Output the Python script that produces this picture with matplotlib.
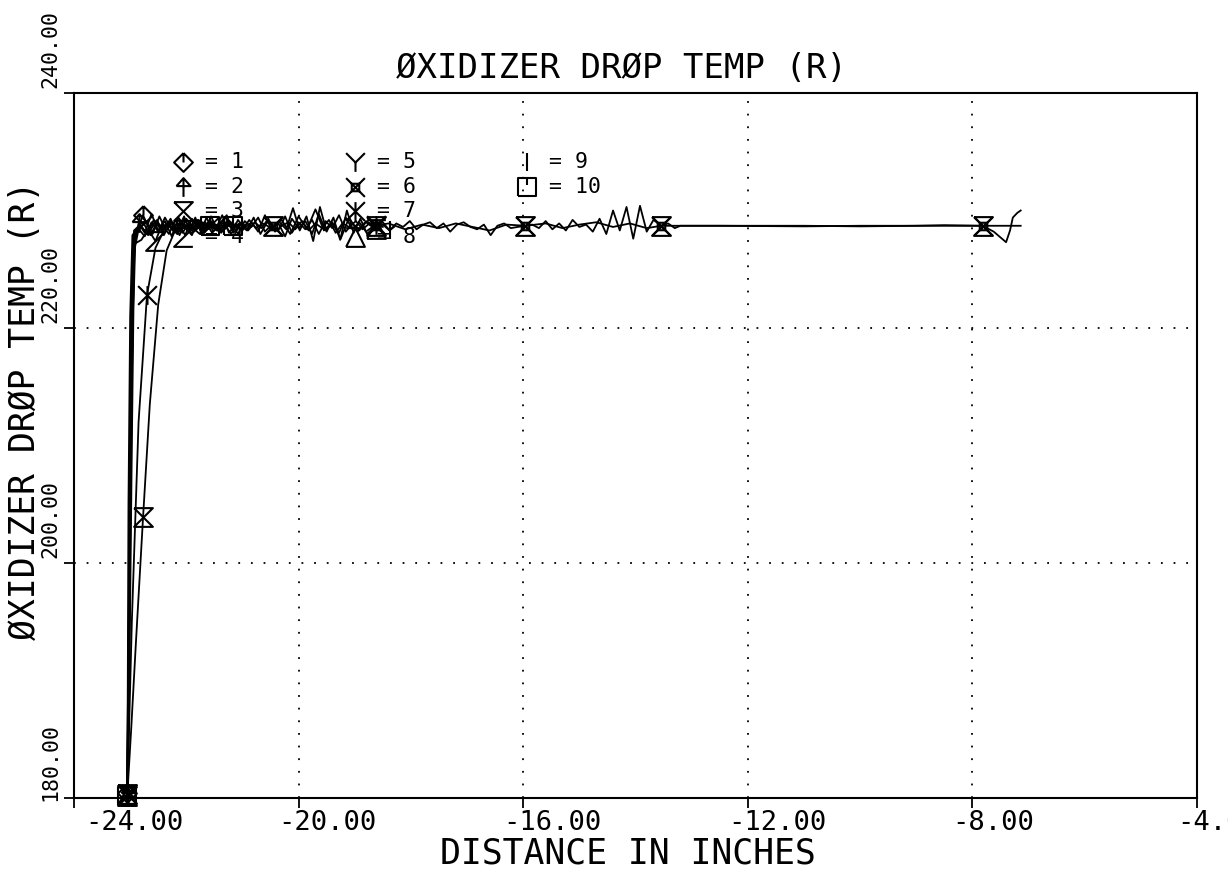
import matplotlib
matplotlib.use("Agg")
import matplotlib.pyplot as plt
from matplotlib.path import Path

# ---------------- data ----------------
x_ticks = [-24, -20, -16, -12, -8, -4]
x_tick_labels = ["-24.00", "-20.00", "-16.00", "-12.00", "-8.00", "-4.00"]
y_ticks = [180, 200, 220, 240]
y_tick_labels = ["180.00", "200.00", "220.00", "240.00"]

title_text = "ØXIDIZER DRØP TEMP (R)"
xlabel_text = "DISTANCE IN INCHES"
ylabel_text = "ØXIDIZER DRØP TEMP (R)"

series_names = ["1", "2", "3", "4", "5", "6", "7", "8", "9", "10"]

s1 = [(-23.06, 180.4), (-23.02, 196), (-22.98, 214), (-22.95, 224.5), (-22.9, 228.0),
      (-22.77, 229.6), (-22.65, 228.3), (-22.52, 229.2), (-22.4, 227.9), (-22.28, 229.0),
      (-22.16, 228.2), (-22.04, 229.5), (-21.92, 228.0), (-21.8, 228.9), (-21.68, 228.4),
      (-21.56, 229.1), (-21.44, 228.6)]
s2 = [(-23.04, 180.3), (-23.0, 201), (-22.96, 219), (-22.92, 227.4), (-22.85, 228.9),
      (-22.74, 228.1), (-22.62, 229.7), (-22.5, 228.3), (-22.38, 229.1), (-22.26, 227.8),
      (-22.14, 229.4), (-22.02, 228.6), (-21.9, 227.9), (-21.78, 229.2), (-21.66, 228.4),
      (-21.54, 229.0), (-21.42, 228.2), (-21.3, 228.9), (-21.18, 228.5), (-21.06, 228.7)]
s3 = [(-23.05, 180.3), (-22.98, 186), (-22.9, 193), (-22.77, 203.9), (-22.65, 213.5),
      (-22.5, 222), (-22.35, 226.6), (-22.2, 228.3),
      (-22.08, 228.9), (-21.96, 228.2), (-21.84, 229.4), (-21.72, 228.0), (-21.60, 229.1),
      (-21.48, 228.4), (-21.36, 229.6), (-21.24, 228.1), (-21.12, 228.9), (-21.00, 228.3),
      (-20.88, 229.2), (-20.76, 228.5), (-20.64, 228.9), (-20.52, 228.6), (-20.45, 228.7),
      (-20.34, 229.0), (-20.22, 228.4), (-20.10, 230.2), (-19.98, 228.3), (-19.86, 229.5),
      (-19.74, 227.4), (-19.62, 230.3), (-19.50, 228.2), (-19.38, 229.4), (-19.26, 227.5),
      (-19.14, 230.0), (-19.02, 228.1), (-18.90, 229.3), (-18.78, 228.0), (-18.63, 228.7),
      (-18.50, 229.0), (-18.38, 228.3), (-18.26, 228.9), (-18.14, 228.6), (-18.02, 229.1),
      (-17.90, 228.4), (-17.78, 228.8), (-17.66, 229.0), (-17.54, 228.5), (-17.42, 228.9),
      (-17.30, 228.2), (-17.18, 228.8), (-17.06, 229.0), (-16.94, 228.6), (-16.82, 228.4),
      (-16.70, 228.8), (-16.58, 227.9), (-16.46, 228.7), (-16.34, 228.9), (-16.22, 228.5),
      (-16.10, 228.6), (-15.96, 228.7), (-15.84, 228.8), (-15.72, 228.5), (-15.60, 229.1),
      (-15.48, 228.4), (-15.36, 228.9), (-15.24, 228.3), (-15.12, 229.2), (-15.00, 228.6),
      (-14.88, 228.8), (-14.76, 228.2), (-14.64, 229.3), (-14.52, 228.0), (-14.40, 230.0),
      (-14.28, 228.3), (-14.16, 230.3), (-14.04, 227.6), (-13.92, 230.4), (-13.80, 228.2),
      (-13.68, 229.2), (-13.54, 228.7), (-13.42, 228.9), (-13.30, 228.5), (-13.20, 228.7),
      (-12.5, 228.7), (-11.0, 228.65), (-10.0, 228.7), (-9.0, 228.7), (-8.5, 228.75),
      (-7.82, 228.7), (-7.5, 228.7), (-7.14, 228.7)]
s4 = [(-23.05, 180.2), (-23.01, 192), (-22.97, 210), (-22.94, 222), (-22.91, 227.2),
      (-22.8, 227.5), (-22.68, 228.4), (-22.55, 227.4), (-22.43, 228.8), (-22.31, 228.0),
      (-22.19, 229.2), (-22.07, 228.1), (-21.95, 228.9), (-21.83, 228.3), (-21.71, 229.0),
      (-21.59, 228.5), (-21.47, 228.8), (-21.35, 228.2), (-21.23, 229.1), (-21.11, 228.6)]
s5 = [(-23.05, 180.3), (-23.03, 205), (-23.0, 221), (-22.96, 227.9), (-22.86, 228.5),
      (-22.74, 227.8), (-22.62, 229.0), (-22.5, 228.2), (-22.38, 229.4), (-22.26, 228.4),
      (-22.14, 228.9), (-22.02, 227.9), (-21.9, 229.3), (-21.78, 228.5), (-21.66, 229.0),
      (-21.54, 228.1), (-21.42, 228.8), (-21.3, 229.4), (-21.18, 228.3), (-21.06, 228.9),
      (-20.94, 228.4), (-20.82, 228.8)]
s6 = [(-23.05, 180.3), (-23.01, 199), (-22.97, 216), (-22.93, 226.5), (-22.85, 228.4),
      (-22.72, 229.1), (-22.6, 228.0), (-22.48, 229.5), (-22.36, 228.3), (-22.24, 229.0),
      (-22.12, 227.9), (-22.0, 229.3), (-21.88, 228.5), (-21.76, 228.0), (-21.64, 229.4),
      (-21.52, 228.2), (-21.40, 228.9), (-21.28, 229.6), (-21.16, 228.1), (-21.04, 228.8),
      (-20.92, 228.3), (-20.80, 229.4), (-20.68, 228.0), (-20.56, 229.0), (-20.45, 228.7),
      (-20.3, 229.2), (-20.15, 228.0), (-20.0, 229.5), (-19.85, 228.4), (-19.7, 230.1),
      (-19.55, 228.3), (-19.4, 229.0), (-19.25, 227.6), (-19.1, 229.4), (-18.95, 228.2),
      (-18.8, 229.1), (-18.63, 228.7), (-18.4, 228.9), (-18.1, 228.4), (-17.8, 228.8),
      (-17.5, 228.5), (-17.2, 228.9), (-16.9, 228.6), (-16.6, 228.3), (-16.3, 228.8),
      (-15.96, 228.7), (-15.6, 228.9), (-15.3, 228.5), (-15.0, 228.8), (-14.7, 229.0),
      (-14.4, 228.6), (-14.1, 228.9), (-13.8, 228.5), (-13.54, 228.7), (-13.0, 228.7),
      (-12.0, 228.7), (-11.0, 228.7), (-10.0, 228.65), (-9.0, 228.7), (-8.3, 228.7),
      (-7.82, 228.7), (-7.62, 228.2), (-7.40, 227.3), (-7.33, 228.3), (-7.28, 229.4),
      (-7.20, 229.8), (-7.14, 230.0)]
s7 = [(-23.05, 180.3), (-22.97, 195), (-22.85, 212), (-22.70, 222.8), (-22.55, 226.8),
      (-22.4, 228.3), (-22.28, 229.1), (-22.16, 228.0), (-22.04, 229.3), (-21.92, 228.4),
      (-21.8, 228.9), (-21.68, 228.1), (-21.56, 229.5), (-21.44, 228.3), (-21.32, 228.8),
      (-21.2, 228.0), (-21.08, 229.2), (-20.96, 228.5), (-20.84, 229.0), (-20.72, 228.2),
      (-20.6, 229.6), (-20.48, 228.4), (-20.36, 228.9), (-20.24, 227.8), (-20.12, 229.3),
      (-20.0, 228.5), (-19.88, 229.1), (-19.76, 228.0), (-19.64, 229.7), (-19.52, 228.3),
      (-19.4, 228.9), (-19.28, 228.1), (-19.16, 229.4), (-19.04, 228.4), (-18.92, 229.0),
      (-18.8, 228.2), (-18.63, 228.8), (-18.5, 228.6)]
s8 = [(-23.05, 180.2), (-23.02, 198), (-22.99, 217), (-22.95, 226.8), (-22.88, 228.1),
      (-22.76, 228.9), (-22.64, 227.9), (-22.52, 229.0), (-22.4, 228.4), (-22.28, 229.3),
      (-22.16, 228.0), (-22.04, 228.8), (-21.92, 228.5), (-21.8, 229.2), (-21.68, 228.1),
      (-21.56, 228.7), (-21.44, 229.3), (-21.32, 228.4), (-21.2, 228.9), (-21.08, 228.0),
      (-20.96, 229.1), (-20.84, 228.6), (-20.72, 229.4), (-20.6, 228.2), (-20.48, 228.8),
      (-20.36, 228.3), (-20.24, 229.5), (-20.12, 228.1), (-20.0, 229.0), (-19.88, 228.4),
      (-19.76, 229.2), (-19.64, 228.0), (-19.52, 229.1), (-19.4, 228.5), (-19.28, 229.6),
      (-19.16, 228.2), (-19.04, 228.9), (-18.92, 228.3), (-18.8, 229.0), (-18.63, 228.4),
      (-18.55, 228.6)]
s9 = [(-23.05, 180.3), (-23.0, 208), (-22.97, 223), (-22.93, 228.3), (-22.82, 228.8),
      (-22.7, 228.0), (-22.58, 229.2), (-22.46, 228.5), (-22.34, 228.9), (-22.22, 228.2),
      (-22.1, 229.1), (-21.98, 228.6), (-21.86, 228.2), (-21.74, 229.0), (-21.62, 228.4),
      (-21.5, 228.8), (-21.38, 228.1), (-21.26, 229.2), (-21.14, 228.6), (-21.02, 228.9),
      (-20.9, 228.3), (-20.78, 229.0), (-20.66, 228.5), (-20.54, 229.3), (-20.42, 228.2),
      (-20.3, 228.7), (-20.18, 229.0), (-20.06, 228.4), (-19.94, 229.1), (-19.82, 228.3),
      (-19.7, 228.9), (-19.58, 228.5), (-19.46, 229.2), (-19.34, 228.1), (-19.22, 228.9),
      (-19.1, 228.6), (-18.98, 229.1), (-18.86, 228.4), (-18.74, 228.9), (-18.62, 228.5),
      (-18.5, 228.8), (-18.38, 228.3), (-18.3, 228.6)]
s10 = [(-23.05, 180.2), (-23.02, 194), (-22.99, 212), (-22.96, 225), (-22.92, 228.3),
       (-22.8, 228.6), (-22.68, 227.9), (-22.56, 229.1), (-22.44, 228.3), (-22.32, 229.0),
       (-22.2, 228.1), (-22.08, 228.8), (-21.96, 228.4), (-21.84, 229.2), (-21.72, 228.0),
       (-21.58, 228.7), (-21.46, 228.3), (-21.34, 229.0), (-21.17, 228.7), (-21.05, 228.5),
       (-20.95, 228.8)]

series_data = [s1, s2, s3, s4, s5, s6, s7, s8, s9, s10]
# indices of points carrying a plot symbol
marker_points = [[0, 5], [0, 4], [0, 3, 22, 37, 59, 79, 88], [0, 7], [0],
                 [0, 24, 36, 45, 53, 60], [0, 3, 36], [0, 39], [0, 41], [0, 15, 18]]


# ---------------- plotter symbols ----------------
def seg_path(*segs):
    verts, codes = [], []
    for s in segs:
        for i, p in enumerate(s):
            verts.append(p)
            codes.append(Path.MOVETO if i == 0 else Path.LINETO)
    return Path(verts, codes)


sq = [(-1, -1), (1, -1), (1, 1), (-1, 1), (-1, -1)]
symbols = [
    seg_path([(0, 1), (1, 0), (0, -1), (-1, 0), (0, 1)], [(0, 1), (0, 0)]),
    seg_path([(0, -1), (0, 1)], [(-0.75, 0.15), (0, 1), (0.75, 0.15), (-0.75, 0.15)]),
    seg_path([(-1, 1), (1, 1), (-1, -1), (1, -1), (-1, 1)]),
    seg_path([(-1, 1), (1, 1), (-1, -1), (1, -1)]),
    seg_path([(-1, 1), (0, 0), (1, 1)], [(0, 0), (0, -1)]),
    seg_path([(-1, -1), (1, 1)], [(-1, 1), (1, -1)],
             [(-0.4, -0.4), (0.4, -0.4), (0.4, 0.4), (-0.4, 0.4), (-0.4, -0.4)]),
    seg_path([(-1, -1), (1, 1)], [(-1, 1), (1, -1)], [(0, -1), (0, 1)]),
    seg_path([(-1, -1), (1, -1), (0, 1), (-1, -1)], [(-1, 1), (1, 1)]),
    seg_path([(0, -1), (0, 1)]),
    seg_path(sq, [(0, 1), (0, 0.2)]),
]

mono = "DejaVu Sans Mono"
fig = plt.figure(figsize=(12.28, 8.75), dpi=100)
W, H = 1228, 875
L, R, T, B = 74, 1197, 93, 798
ax = fig.add_axes([L / W, 1 - B / H, (R - L) / W, (B - T) / H])
ax.set_xlim(-24, -4)
ax.set_ylim(180, 240)

for data, sym, mk in zip(series_data, symbols, marker_points):
    xs = [p[0] for p in data]
    ys = [p[1] for p in data]
    ax.plot(xs, ys, color="black", lw=1.3, marker=sym, markevery=mk,
            markersize=13.5, markerfacecolor="none", markeredgecolor="black",
            markeredgewidth=1.5, zorder=3, clip_on=False)

# grid
for v in x_ticks[1:-1]:
    ax.axvline(v, color="black", lw=1.3, ls=(0, (1, 6)), zorder=1)
for v in y_ticks[1:-1]:
    ax.axhline(v, color="black", lw=1.3, ls=(0, (1, 6)), zorder=1)

ax.set_xticks(x_ticks)
ax.set_yticks(y_ticks)
ax.set_xticklabels([])
ax.set_yticklabels([])
ax.tick_params(direction="out", length=7, width=1.3)
for s in ax.spines.values():
    s.set_linewidth(1.5)

pt = 72 / 100.0
for i, (v, lab) in enumerate(zip(x_ticks, x_tick_labels)):
    dx = 11 if i == 0 else -20
    ax.annotate(lab, xy=(v, 0), xycoords=("data", "axes fraction"),
                xytext=(dx * pt, -25 * pt), textcoords="offset points",
                ha="left", va="center", fontsize=19.5, family=mono,
                annotation_clip=False)
for v, lab in zip(y_ticks, y_tick_labels):
    dy = -3 if v == 180 else 5
    ax.annotate(lab, xy=(0, v), xycoords=("axes fraction", "data"),
                xytext=(-24 * pt, dy * pt), textcoords="offset points",
                ha="center", va="bottom", rotation=90, fontsize=15.5, family=mono,
                annotation_clip=False)

fig.text(621 / W, 1 - 69 / H, title_text, ha="center", va="center",
         fontsize=24.5, family=mono)
fig.text(628 / W, 1 - 853 / H, xlabel_text, ha="center", va="center",
         fontsize=25, family=mono)
fig.text(25 / W, 1 - 410 / H, ylabel_text, ha="center", va="center",
         rotation=90, fontsize=25, family=mono)

# legend (symbol = curve number), drawn in plotter style
col_x = [183, 355, 527]
row_y = [162, 187, 211, 237]
for k, (name, sym) in enumerate(zip(series_names, symbols)):
    c, r = divmod(k, 4)
    fx = (col_x[c] - L) / (R - L)
    fy = 1 - (row_y[r] - T) / (B - T)
    ax.plot([fx], [fy], transform=ax.transAxes, marker=sym, markersize=13.5,
            markerfacecolor="none", markeredgecolor="black", markeredgewidth=1.5,
            linestyle="none", zorder=4)
    ax.text(fx + 22 / (R - L), fy, "= " + name, transform=ax.transAxes,
            ha="left", va="center", fontsize=15.5, family=mono, zorder=4)

fig.savefig("out.png", dpi=100)
